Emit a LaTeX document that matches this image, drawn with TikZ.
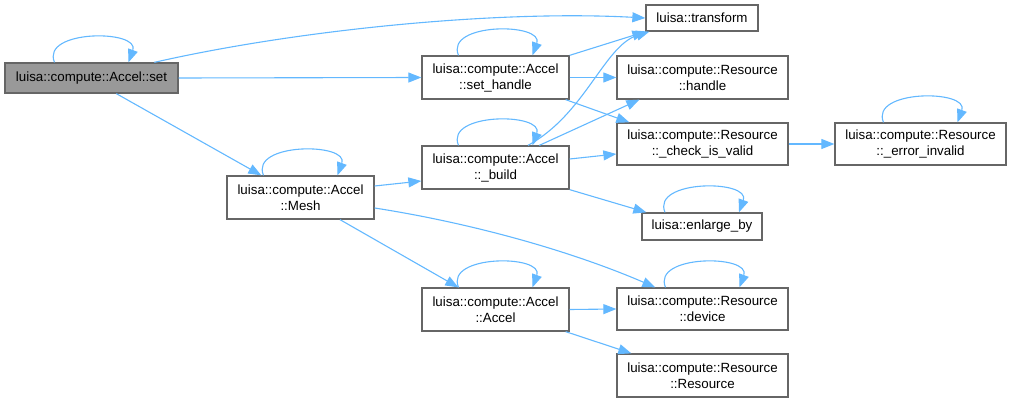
\documentclass[tikz,border=0pt]{standalone}
\usepackage{fontspec}
\setmainfont{Liberation Sans}
\usetikzlibrary{arrows.meta,calc}
\definecolor{edgeblue}{HTML}{63B8FF}
\definecolor{boxgray}{HTML}{666666}
\definecolor{setfill}{HTML}{999999}
\tikzset{
  box/.style={draw=boxgray, line width=1.3pt, fill=white, align=center, inner sep=0pt,
    font=\fontsize{13.33}{16}\selectfont, text=black},
  edge/.style={draw=edgeblue, line width=1.1pt, -{Triangle[length=13pt,width=10pt]}},
}
\newcommand{\selfloop}[1]{\draw[edge] ($(#1.north)+(-37,0)$) .. controls +(-14,-33) and +(12,-33) .. ($(#1.north)+(37,0)$);}
\begin{document}
\begin{tikzpicture}[x=1pt,y=-1pt]
\useasboundingbox (0,0) rectangle (1011,403);
\node[box, fill=setfill, minimum width=173pt, minimum height=30pt] (set) at (91.5,78) {luisa::compute::Accel::set};
\node[box, minimum width=112pt, minimum height=26pt] (transform) at (702,18) {luisa::transform};
\node[box, minimum width=147pt, minimum height=43pt] (sethandle) at (495.5,77.5) {luisa::compute::Accel\\::set\_handle};
\node[box, minimum width=171pt, minimum height=43pt] (handle) at (702.5,77.5) {luisa::compute::Resource\\::handle};
\node[box, minimum width=171pt, minimum height=42pt] (check) at (702.5,144) {luisa::compute::Resource\\::\_check\_is\_valid};
\node[box, minimum width=147pt, minimum height=43pt] (build) at (495.5,167.5) {luisa::compute::Accel\\::\_build};
\node[box, minimum width=147pt, minimum height=43pt] (mesh) at (300.5,197.5) {luisa::compute::Accel\\::Mesh};
\node[box, minimum width=147pt, minimum height=43pt] (accel) at (495.5,309.5) {luisa::compute::Accel\\::Accel};
\node[box, minimum width=171pt, minimum height=42pt] (error) at (920.5,144) {luisa::compute::Resource\\::\_error\_invalid};
\node[box, minimum width=120pt, minimum height=27pt] (enlarge) at (702,226.5) {luisa::enlarge\_by};
\node[box, minimum width=171pt, minimum height=42pt] (device) at (702.5,309) {luisa::compute::Resource\\::device};
\node[box, minimum width=171pt, minimum height=43pt] (resource) at (702.5,375.5) {luisa::compute::Resource\\::Resource};

\selfloop{set}
\selfloop{sethandle}
\selfloop{build}
\selfloop{mesh}
\selfloop{accel}
\selfloop{error}
\selfloop{enlarge}
\selfloop{device}

\draw[edge] ($(set.north west)+(150,0)$) .. controls +(145,-33) and +(-146,-8) .. (transform.west);
\draw[edge] (set.east) -- (sethandle.west);
\draw[edge] ($(set.south west)+(112,0)$) -- ($(mesh.north west)+(35,0)$);
\draw[edge] (sethandle.north east) -- (transform.south west);
\draw[edge] (sethandle.east) -- (handle.west);
\draw[edge] ($(sethandle.south east)+(-4,0)$) -- ($(check.north west)+(13,0)$);
\draw[edge] ($(build.north)+(32.5,0)$) .. controls +(57,-31) and +(-45,14) .. ($(transform.south west)+(4,0)$);
\draw[edge] ($(build.north west)+(118,0)$) -- ($(handle.south west)+(23,0)$);
\draw[edge] ($(build.east)+(0,-8.5)$) -- ($(check.west)+(0,10)$);
\draw[edge] (build.south east) -- ($(enlarge.north west)+(5,0)$);
\draw[edge] ($(mesh.east)+(0,-11.5)$) -- ($(build.west)+(0,13.5)$);
\draw[edge] ($(mesh.east)+(0,10.5)$) .. controls +(96,15) and +(-86,-37) .. ($(device.north west)+(39,0)$);
\draw[edge] ($(mesh.south)+(39.5,0)$) -- ($(accel.north west)+(37,0)$);
\draw[edge] (accel.east) -- (device.west);
\draw[edge] ($(accel.south east)+(-4,0)$) -- ($(resource.north west)+(15,0)$);
\draw[edge] (check.east) -- (error.west);
\end{tikzpicture}
\end{document}
